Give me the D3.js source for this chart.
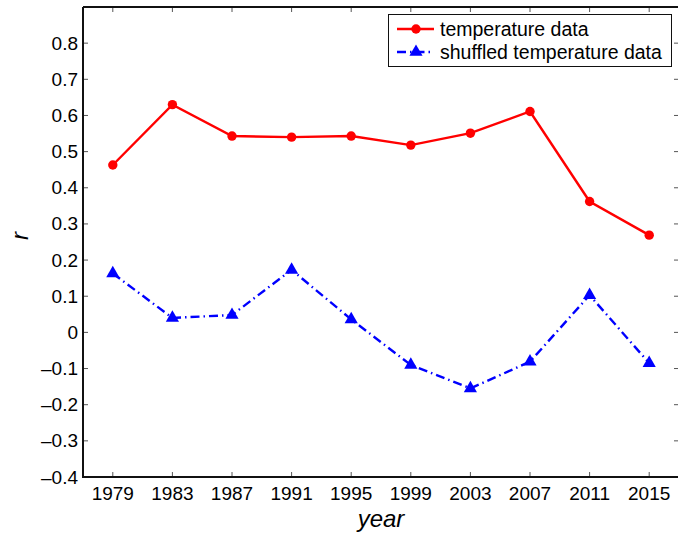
<!DOCTYPE html>
<html>
<head>
<meta charset="utf-8">
<script src="https://cdn.jsdelivr.net/npm/d3@7"></script>
<style>
body { margin: 0; background: #fff; }
svg text { font-family: "Liberation Sans", Arial, sans-serif; fill: #000; }
</style>
</head>
<body>
<div class="content"></div>
<script>
var years = [1979, 1983, 1987, 1991, 1995, 1999, 2003, 2007, 2011, 2015];
var tempData = [0.463, 0.630, 0.543, 0.540, 0.543, 0.518, 0.551, 0.611, 0.362, 0.269];
var shuffledData = [0.163, 0.040, 0.048, 0.173, 0.036, -0.090, -0.155, -0.081, 0.103, -0.085];
var yTicks = [-0.4, -0.3, -0.2, -0.1, 0, 0.1, 0.2, 0.3, 0.4, 0.5, 0.6, 0.7, 0.8];
var seriesNames = ["temperature data", "shuffled temperature data"];

var width = 678, height = 534;
var plotL = 83, plotR = 679, plotT = 7, plotB = 477;

var svg = d3.select(".content").append("svg").attr("width", width).attr("height", height);

var x = d3.scaleLinear().domain([1977, 2017]).range([plotL, plotR]);
var y = d3.scaleLinear().domain([-0.4, 0.9]).range([plotB, plotT]);

function fmt(v) {
	var s = d3.format(".1f")(Math.abs(v));
	if (Math.abs(v) < 1e-9) return "0";
	return (v < 0 ? "\u2013" : "") + s;
}

// ticks (inward, all four sides)
var tk = 5;
years.forEach(function(yr) {
	svg.append("line").attr("x1", x(yr)).attr("x2", x(yr)).attr("y1", plotB).attr("y2", plotB - tk).attr("stroke", "#555");
	svg.append("line").attr("x1", x(yr)).attr("x2", x(yr)).attr("y1", plotT).attr("y2", plotT + tk).attr("stroke", "#555");
	svg.append("text").attr("x", x(yr)).attr("y", 500).attr("text-anchor", "middle").attr("font-size", 19).text(yr);
});
yTicks.forEach(function(v) {
	svg.append("line").attr("x1", plotL).attr("x2", plotL + tk).attr("y1", y(v)).attr("y2", y(v)).attr("stroke", "#555");
	svg.append("line").attr("x1", plotR).attr("x2", plotR - tk).attr("y1", y(v)).attr("y2", y(v)).attr("stroke", "#555");
	svg.append("text").attr("x", 78).attr("y", y(v) + 6.5).attr("text-anchor", "end").attr("font-size", 19).text(fmt(v));
});

// axes box
svg.append("path").attr("d", "M" + plotL + "," + plotT + "L" + plotL + "," + plotB + "L" + plotR + "," + plotB)
	.attr("stroke", "#111").attr("stroke-width", 2).attr("fill", "none");
svg.append("path").attr("d", "M" + plotL + "," + plotT + "L" + plotR + "," + plotT)
	.attr("stroke", "#111").attr("stroke-width", 2).attr("fill", "none");

// series
var line = d3.line().x(function(d, i) { return x(years[i]); }).y(function(d) { return y(d); });

svg.append("path").datum(tempData).attr("d", line).attr("stroke", "#ff0000").attr("stroke-width", 2.4).attr("fill", "none");
svg.selectAll(".dot").data(tempData).enter().append("circle")
	.attr("cx", function(d, i) { return x(years[i]); }).attr("cy", function(d) { return y(d); })
	.attr("r", 4.7).attr("fill", "#ff0000");

svg.append("path").datum(shuffledData).attr("d", line).attr("stroke", "#0000ff").attr("stroke-width", 2.4)
	.attr("stroke-dasharray", "9,4,1.5,4").attr("fill", "none");
var tri = d3.symbol().type(d3.symbolTriangle).size(75);
svg.selectAll(".tri").data(shuffledData).enter().append("path")
	.attr("d", tri).attr("transform", function(d, i) { return "translate(" + x(years[i]) + "," + y(d) + ")"; })
	.attr("fill", "#0000ff");

// axis labels
svg.append("text").attr("x", (plotL + plotR) / 2).attr("y", 527).attr("text-anchor", "middle")
	.attr("font-size", 24).attr("font-style", "italic").text("year");
svg.append("text").attr("transform", "translate(28," + 236 + ") rotate(-90)").attr("text-anchor", "middle")
	.attr("font-size", 24).attr("font-style", "italic").text("r");

// legend
var lg = svg.append("g");
lg.append("rect").attr("x", 388.5).attr("y", 14.5).attr("width", 283).attr("height", 52)
	.attr("fill", "#fff").attr("stroke", "#111").attr("stroke-width", 1);
var rows = [29, 52];
lg.append("line").attr("x1", 397).attr("x2", 434).attr("y1", rows[0]).attr("y2", rows[0]).attr("stroke", "#ff0000").attr("stroke-width", 2.4);
lg.append("circle").attr("cx", 416).attr("cy", rows[0]).attr("r", 4.7).attr("fill", "#ff0000");
lg.append("line").attr("x1", 397).attr("x2", 434).attr("y1", rows[1]).attr("y2", rows[1]).attr("stroke", "#0000ff").attr("stroke-width", 2.4).attr("stroke-dasharray", "9,4,1.5,4");
lg.append("path").attr("d", tri).attr("transform", "translate(416," + rows[1] + ")").attr("fill", "#0000ff");
seriesNames.forEach(function(n, i) {
	lg.append("text").attr("x", 440).attr("y", rows[i] + 7).attr("font-size", 19.5).text(n);
});
</script>
</body>
</html>
